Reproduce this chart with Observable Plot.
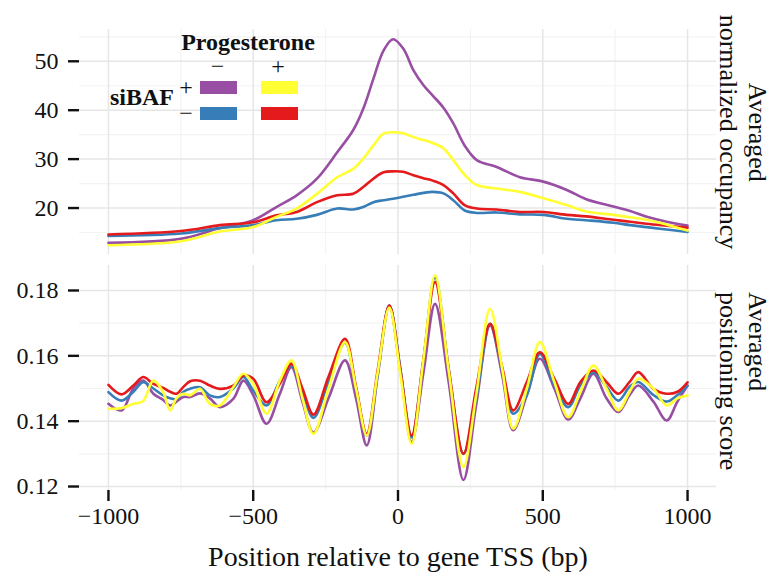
<!DOCTYPE html>
<html><head><meta charset="utf-8">
<script src="https://cdn.jsdelivr.net/npm/d3@7"></script>
<script src="https://cdn.jsdelivr.net/npm/@observablehq/plot@0.6"></script>
<style>
body{margin:0;background:#fff;}
#wrap{position:relative;width:783px;height:580px;font-family:"Liberation Serif","DejaVu Serif",serif;color:#111;overflow:hidden;}
#wrap svg, #wrap svg text{font-family:"Liberation Serif","DejaVu Serif",serif !important;}
#topPanel,#botPanel{position:absolute;left:0;}
#topPanel{top:0}
#botPanel{top:255px}
.lg{position:absolute;white-space:nowrap;line-height:1;transform:translate(-50%,-50%);font-size:24px;}
.sw{position:absolute;width:37px;height:13px;}
.strip{position:absolute;writing-mode:vertical-rl;font-size:26px;line-height:29px;white-space:pre;color:#111;}
</style></head><body>
<div id="wrap"><div id="topPanel"></div><div id="botPanel"></div><div id="legend"></div></div>
<script>
// series (draw order) and colours
const seriesKeys = ["siBAF+ / Prog−", "siBAF− / Prog−", "siBAF− / Prog+", "siBAF+ / Prog+"];
const seriesColors = ["#984EA3", "#377EB8", "#E41A1C", "#FFFF33"];

// top panel: averaged normalized occupancy
const occX = [-1000, -750, -615, -500, -420, -350, -280, -210, -155, -120, -85, -50, -17, 18, 53, 88, 120, 157, 191, 230, 272, 341, 421, 502, 583, 650, 744, 802, 859, 928, 1000];
const occPurple = [12.9, 13.7, 15.9, 17.5, 20.2, 22.6, 26.0, 31.4, 35.9, 40.3, 46.4, 52.2, 54.5, 52.6, 48.2, 45.1, 43.0, 40.5, 37.3, 32.8, 29.8, 28.4, 26.3, 25.4, 23.7, 21.8, 20.3, 19.4, 18.2, 17.2, 16.4];
const occBlue   = [14.3, 14.8, 15.9, 16.5, 17.5, 17.8, 18.6, 19.9, 19.7, 20.2, 21.2, 21.6, 21.9, 22.3, 22.7, 23.1, 23.3, 23.0, 21.6, 19.5, 19.0, 19.1, 18.7, 18.6, 17.8, 17.5, 17.0, 16.5, 16.1, 15.6, 15.1];
const occRed    = [14.6, 15.3, 16.5, 17.1, 18.5, 19.2, 21.2, 22.6, 22.9, 24.3, 26.0, 27.3, 27.5, 27.4, 26.7, 26.1, 25.6, 24.7, 23.0, 20.6, 19.9, 19.7, 19.2, 19.2, 18.6, 18.3, 17.6, 17.2, 16.8, 16.4, 16.0];
const occYellow = [12.4, 13.2, 15.2, 16.1, 18.2, 19.9, 22.9, 26.3, 28.0, 30.1, 32.8, 35.2, 35.5, 35.3, 34.5, 33.9, 33.3, 32.2, 29.8, 26.8, 24.7, 24.0, 23.3, 22.0, 20.6, 19.3, 18.6, 18.1, 17.6, 16.6, 15.4];

// bottom panel: averaged positioning score
const posX = [-1000, -955, -914, -880, -845, -811, -787, -765, -741, -718, -684, -650, -615, -569, -534, -500, -454, -408, -368, -330, -292, -240, -183, -145, -108, -70, -30, 8, 47, 88, 128, 175, 226, 270, 318, 360, 398, 445, 490, 540, 588, 630, 675, 720, 761, 800, 830, 882, 928, 965, 1000];
const posPurple = [.1453,.1433,.1500,.1524,.1484,.1465,.1448,.1460,.1474,.1474, .1485,.1470,.1443,.1468,.1524,.1480,.1392,.1484,.1565,.1460, .1365,.1470,.1586,.1470,.1326,.1540,.1754,.1560,.1336,.1550, .1759,.1520,.1220,.1450,.1693,.1540,.1372,.1480,.1591,.1500, .1405,.1470,.1545,.1470,.1428,.1480,.1509,.1460,.1402,.1460,.1509];
const posBlue   = [.1489,.1463,.1490,.1519,.1500,.1479,.1470,.1468,.1490,.1499, .1504,.1479,.1474,.1500,.1535,.1494,.1448,.1524,.1570,.1490, .1410,.1520,.1640,.1500,.1356,.1545,.1754,.1560,.1350,.1590, .1840,.1560,.1300,.1470,.1698,.1555,.1423,.1480,.1606,.1510, .1443,.1510,.1550,.1505,.1463,.1505,.1520,.1480,.1460,.1480,.1509];
const posRed    = [.1511,.1482,.1509,.1535,.1514,.1502,.1490,.1484,.1505,.1522, .1524,.1509,.1499,.1509,.1540,.1530,.1458,.1515,.1576,.1500, .1420,.1536,.1652,.1505,.1361,.1557,.1754,.1555,.1356,.1590, .1826,.1560,.1300,.1500,.1698,.1565,.1433,.1520,.1611,.1530, .1453,.1520,.1555,.1520,.1484,.1520,.1550,.1499,.1484,.1490,.1519];
const posYellow = [.1438,.1440,.1453,.1462,.1524,.1489,.1433,.1470,.1484,.1479, .1499,.1453,.1448,.1504,.1545,.1514,.1423,.1524,.1586,.1470, .1361,.1500,.1642,.1500,.1356,.1550,.1748,.1545,.1331,.1590, .1846,.1555,.1259,.1480,.1744,.1560,.1377,.1500,.1642,.1520, .1412,.1490,.1570,.1500,.1433,.1490,.1530,.1500,.1448,.1470,.1479];

// ticks and labels
const xTicks = [-1000, -500, 0, 500, 1000];
const xMinor = [-750, -250, 250, 750];
const occTicks = [20, 30, 40, 50];
const occMinor = [15, 25, 35, 45, 55];
const posTicks = [0.12, 0.14, 0.16, 0.18];
const posMinor = [0.13, 0.15, 0.17];
const xLabel = "Position relative to gene TSS (bp)";
const occStrip = "Averaged\nnormalized occupancy";
const posStrip = "Averaged\npositioning score";
const legendTitle = "Progesterone";
const legendRowTitle = "siBAF";
const legendCols = ["−", "+"];
const legendRows = ["+", "−"];

function longTable(xs, cols) {
  const out = [];
  cols.forEach((vals, k) => vals.forEach((v, i) => out.push({x: xs[i], y: v, s: seriesKeys[k]})));
  return out;
}
const occData = longTable(occX, [occPurple, occBlue, occRed, occYellow]);
const posData = longTable(posX, [posPurple, posBlue, posRed, posYellow]);

const fontName = "Liberation Serif";
const base = {
  width: 783, marginLeft: 79, marginRight: 67,
  x: {domain: [-1100, 1100]},
  color: {domain: seriesKeys, range: seriesColors},
  style: {fontFamily: fontName, background: "#fff", color: "#111", overflow: "visible"}
};
const grids = (yMajor, yMinor) => [
  Plot.gridX(xMinor, {stroke: "#f3f3f3", strokeOpacity: 1, strokeWidth: 1.2}),
  Plot.gridY(yMinor, {stroke: "#f3f3f3", strokeOpacity: 1, strokeWidth: 1.2}),
  Plot.gridX(xTicks, {stroke: "#e6e6e6", strokeOpacity: 1, strokeWidth: 1.5}),
  Plot.gridY(yMajor, {stroke: "#e6e6e6", strokeOpacity: 1, strokeWidth: 1.5})
];
const tickFont = 24;

const topChart = Plot.plot({
  ...base,
  height: 254, marginTop: 29, marginBottom: 0,
  y: {domain: [10.5, 56.5]},
  marks: [
    ...grids(occTicks, occMinor),
    Plot.axisX({ticks: [], label: null}),
    Plot.axisY(occTicks, {tickSize: 11, tickPadding: 10, fontSize: tickFont, strokeWidth: 2.4, stroke: "#111", tickFormat: d3.format("d"), label: null}),
    Plot.line(occData, {x: "x", y: "y", z: "s", stroke: "s", strokeWidth: 2.6, curve: "catmull-rom"})
  ]
});
document.getElementById("topPanel").appendChild(topChart);

const botChart = Plot.plot({
  ...base,
  height: 325, marginTop: 10, marginBottom: 90,
  y: {domain: [0.11878, 0.18765]},
  marks: [
    ...grids(posTicks, posMinor),
    Plot.axisX(xTicks, {tickSize: 11, tickPadding: 5, fontSize: tickFont, strokeWidth: 2.4, stroke: "#111", tickFormat: d3.format("d"), label: null}),
    Plot.axisY(posTicks, {tickSize: 11, tickPadding: 10, fontSize: tickFont, strokeWidth: 2.4, stroke: "#111", tickFormat: d3.format(".2f"), label: null}),
    Plot.line(posData, {x: "x", y: "y", z: "s", stroke: "s", strokeWidth: 2.6, curve: "catmull-rom"}),
    Plot.text([xLabel], {text: d => d, frameAnchor: "bottom", dy: 75, fontSize: 28, fill: "#111"})
  ]
});
document.getElementById("botPanel").appendChild(botChart);

const wrap = document.getElementById("wrap");
// facet strip labels (rotated, right side)
function addStrip(t, cx, cy, align) {
  const d = document.createElement("div");
  d.className = "strip"; d.textContent = t;
  d.style.textAlign = align;
  d.style.left = cx + "px"; d.style.top = cy + "px";
  d.style.transform = align === "center" ? "translate(-50%,-50%)" : "translate(-50%,0)";
  wrap.appendChild(d);
}
addStrip(occStrip, 743, 132, "center");
addStrip(posStrip, 743, 292, "start");

// legend (html overlay)
const lg = document.getElementById("legend");
function addText(t, cx, cy, bold) {
  const d = document.createElement("div");
  d.className = "lg"; d.textContent = t;
  d.style.left = cx + "px"; d.style.top = cy + "px";
  if (bold) d.style.fontWeight = "bold";
  lg.appendChild(d);
}
const colX = [218.5, 279], rowY = [87.5, 113.5];
addText(legendTitle, 248, 42, true);
addText(legendRowTitle, 142, 97, true);
legendCols.forEach((c, j) => addText(c, colX[j] - 1, 66));
legendRows.forEach((r, i) => addText(r, 186, rowY[i] - 1));
const swatch = [[seriesColors[0], seriesColors[3]], [seriesColors[1], seriesColors[2]]];
legendRows.forEach((r, i) => legendCols.forEach((c, j) => {
  const s = document.createElement("div");
  s.className = "sw";
  s.style.background = swatch[i][j];
  s.style.left = (colX[j] - 18.5) + "px";
  s.style.top = (rowY[i] - 6.5) + "px";
  lg.appendChild(s);
}));
</script>
</body></html>
